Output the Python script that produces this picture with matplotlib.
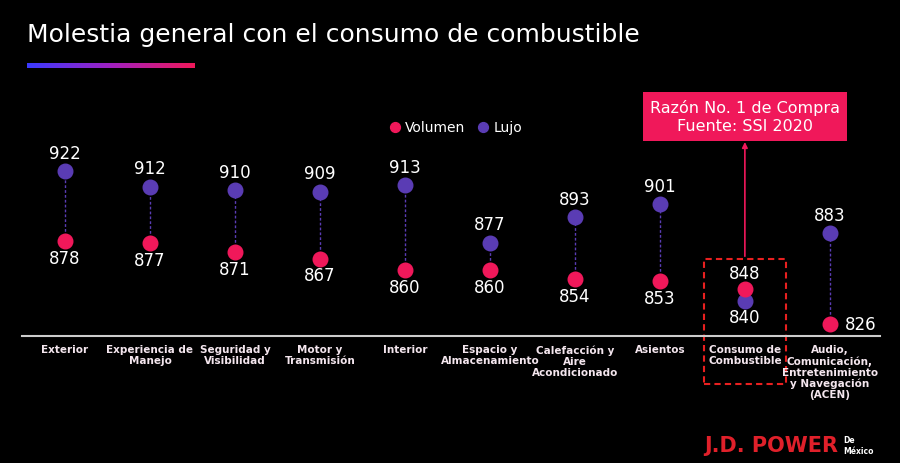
import matplotlib
matplotlib.use("Agg")
import matplotlib.pyplot as plt
import numpy as np
from matplotlib.patches import Rectangle
from matplotlib.colors import LinearSegmentedColormap

categories = ["Exterior", "Experiencia de\nManejo", "Seguridad y\nVisibilidad", "Motor y\nTransmisión",
              "Interior", "Espacio y\nAlmacenamiento", "Calefacción y\nAire\nAcondicionado", "Asientos",
              "Consumo de\nCombustible", "Audio,\nComunicación,\nEntretenimiento\ny Navegación\n(ACEN)"]
volumen = [878, 877, 871, 867, 860, 860, 854, 853, 848, 826]
lujo = [922, 912, 910, 909, 913, 877, 893, 901, 840, 883]

RED = "#f0185a"
PUR = "#5a3cb4"
BG = "black"

fig = plt.figure(figsize=(9, 4.64), dpi=100, facecolor=BG)
ax = fig.add_axes([22/900, (464-337)/464, 858/900, 237/464])
ax.set_facecolor("none")
x = np.arange(len(categories))
ax.set_xlim(-0.506, 9.59)
ax.set_ylim(818.3, 967.3)
ax.axis("off")

for i in x:
    v, l = volumen[i], lujo[i]
    ax.plot([i, i], [v, l], ls=(0, (2, 1.5)), color=PUR, lw=1, zorder=1)
ax.scatter(x, lujo, s=110, color=PUR, zorder=3)
ax.scatter(x, volumen, s=110, color=RED, zorder=4)

fs = 12
for i in x:
    v, l = volumen[i], lujo[i]
    if i == 8:
        ax.text(i, v + 4, str(v), ha="center", va="bottom", color="white", fontsize=fs)
        ax.text(i, l - 4, str(l), ha="center", va="top", color="white", fontsize=fs)
    elif i == 9:
        ax.text(i, l + 6, str(l), ha="center", va="bottom", color="white", fontsize=fs)
        ax.text(i + 0.18, v, str(v), ha="left", va="center", color="white", fontsize=fs)
    else:
        ax.text(i, l + 6, str(l), ha="center", va="bottom", color="white", fontsize=fs)
        ax.text(i, v - 5, str(v), ha="center", va="top", color="white", fontsize=fs)
    ax.text(i, 813, categories[i], ha="center", va="top", color="#f4e6ee", fontsize=7.5,
            fontweight="bold", linespacing=1.1, clip_on=False)

ax.axhline(818.3, color="#cccccc", lw=1.5, clip_on=False)

# legend
ax.scatter([3.88], [949.7], s=50, color=RED, clip_on=False)
ax.text(4.0, 949.7, "Volumen", color="white", fontsize=10, va="center")
ax.scatter([4.92], [949.7], s=50, color=PUR, clip_on=False)
ax.text(5.04, 949.7, "Lujo", color="white", fontsize=10, va="center")

# dashed highlight rectangle
ax.add_patch(Rectangle((8 - 0.48, 788), 0.96, 866.7 - 788, fill=False, ec="#e82020",
                       ls=(0, (3, 2)), lw=1.5, clip_on=False))
ax.annotate("", xy=(8, 942), xytext=(8, 866.7),
            arrowprops=dict(arrowstyle="-|>", color=RED, lw=1.2, mutation_scale=8), annotation_clip=False)
ax.text(8, 956.5, "Razón No. 1 de Compra\nFuente: SSI 2020", ha="center", va="center", color="white",
        fontsize=11.5, linespacing=1.3,
        bbox=dict(boxstyle="square,pad=0.45", fc=RED, ec="none"), clip_on=False)

# title & gradient bar
fig.text(27/900, 1 - 35/464, "Molestia general con el consumo de combustible", color="white",
         fontsize=18, va="center", ha="left")
grad = np.linspace(0, 1, 256).reshape(1, -1)
gax = fig.add_axes([27/900, 1 - 69/464, 168/900, 5/464])
cm = LinearSegmentedColormap.from_list("g", ["#3a3aff", "#a020c0", RED])
gax.imshow(grad, aspect="auto", cmap=cm)
gax.axis("off")

fig.text(838/900, 1 - 446/464, "J.D. POWER", color="#e0202a", fontsize=15, fontweight="bold",
         ha="right", va="center")
fig.text(843/900, 1 - 446/464, "De\nMéxico", color="white", fontsize=5.5, ha="left", va="center",
         fontweight="bold")

fig.savefig("out.png", dpi=100, facecolor=BG)
